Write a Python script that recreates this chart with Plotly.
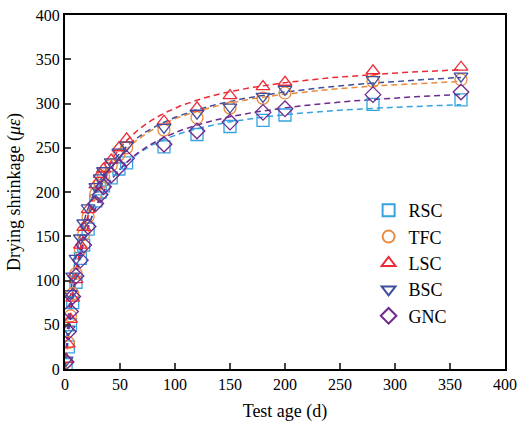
import numpy as np
import plotly.graph_objects as go

ages = [1, 3, 5, 7, 10, 14, 17, 21, 28, 32, 35, 42, 49, 56, 90, 120, 150, 180, 200, 280, 360]

rsc = [5, 25, 50, 75, 98, 125, 140, 158, 190, 200, 207, 216, 226, 233, 251, 265, 274, 281, 287, 299, 304]
tfc = [8, 30, 60, 85, 108, 135, 152, 172, 198, 210, 218, 230, 242, 250, 270, 284, 295, 306, 312, 325, 327]
lsc = [11, 28, 56, 80, 101, 140, 160, 180, 208, 220, 226, 236, 250, 260, 280, 295, 309, 319, 324, 337, 341]
bsc = [10, 45, 85, 105, 125, 148, 165, 182, 206, 216, 224, 234, 245, 253, 273, 289, 296, 308, 316, 327, 331]
gnc = [8, 42, 65, 82, 105, 123, 140, 161, 187, 197, 206, 219, 228, 238, 254, 269, 279, 290, 294, 310, 313]

names = ["RSC", "TFC", "LSC", "BSC", "GNC"]
series = [rsc, tfc, lsc, bsc, gnc]
colors = ["#36a3e0", "#ea8a3e", "#ee2a36", "#3f4e9e", "#6e2a8e"]
symbols = ["square-open", "circle-open", "triangle-up-open", "triangle-down-open", "diamond-open"]


def fit_curve(t, y):
    t = np.asarray(t, float)
    y = np.asarray(y, float)
    w = np.sqrt(t)
    best = None
    for p in np.linspace(0.3, 1.5, 61):
        tp = t ** p
        for b in np.logspace(-0.5, 3, 220):
            g = tp / (b + tp)
            a = float(np.dot(w * g, y) / np.dot(w * g, g))
            err = float(np.sum(w * (a * g - y) ** 2))
            if best is None or err < best[0]:
                best = (err, a, b, p)
    _, a, b, p = best
    tt = np.linspace(0, 360, 400)
    return tt, a * tt ** p / (b + tt ** p)


fig = go.Figure()
for name, vals, c in zip(names, series, colors):
    tt, yy = fit_curve(ages, vals)
    fig.add_trace(go.Scatter(x=tt, y=yy, mode="lines", showlegend=False,
                             line=dict(color=c, width=1.5, dash="6px,4px"), hoverinfo="skip"))
for name, vals, c, s in zip(names, series, colors, symbols):
    fig.add_trace(go.Scatter(x=ages, y=vals, mode="markers", name=name,
                             marker=dict(symbol=s, size=12, color=c, line=dict(color=c, width=1.3))))

font = "Liberation Serif, Times New Roman, serif"
fig.update_layout(
    width=518, height=428,
    margin=dict(l=65, r=13, t=15, b=59, autoexpand=False),
    paper_bgcolor="white", plot_bgcolor="white",
    font=dict(family=font, size=16, color="black"),
    legend=dict(x=0.69, y=0.5, xanchor="left", yanchor="top",
                font=dict(family=font, size=18), bgcolor="rgba(0,0,0,0)",
                itemsizing="constant", tracegroupgap=0),
    xaxis=dict(range=[0, 400], dtick=50, ticks="inside", ticklen=6, tickwidth=1.5,
               showline=True, linecolor="black", linewidth=2, mirror=True,
               showgrid=False, zeroline=False, automargin=False, ticklabeloverflow="allow",
               title=dict(text="Test age (d)", font=dict(size=18), standoff=12),
               tickfont=dict(size=16)),
    yaxis=dict(range=[0, 400], dtick=50, ticks="inside", ticklen=6, tickwidth=1.5,
               showline=True, linecolor="black", linewidth=2, mirror=True,
               showgrid=False, zeroline=False, automargin=False, ticklabeloverflow="allow",
               title=dict(text="Drying shrinkage (<i>με</i>)", font=dict(size=18), standoff=10),
               tickfont=dict(size=16)),
)
fig.write_html("out.html", config={"displayModeBar": False},
               post_script="document.body.style.margin='0';document.body.style.padding='0';")
